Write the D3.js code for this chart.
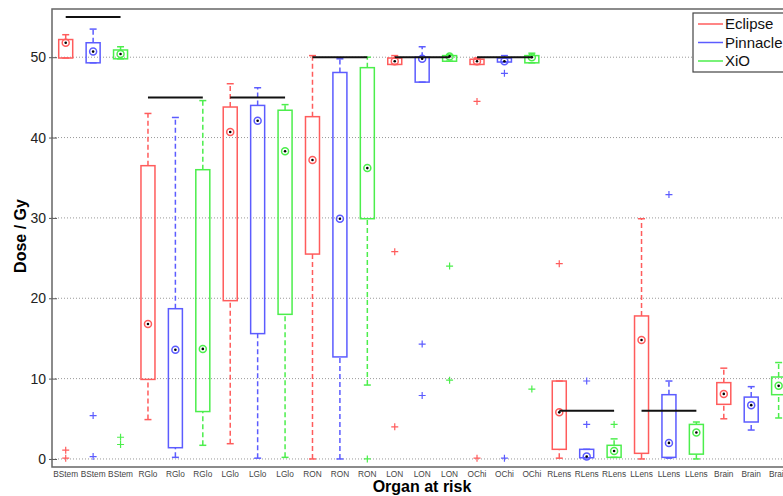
<!DOCTYPE html>
<html>
<head>
<meta charset="utf-8">
<script src="https://cdn.jsdelivr.net/npm/d3@7"></script>
<style>
  body { margin: 0; background: #fff; }
  svg { display: block; font-family: "Liberation Sans", Arial, sans-serif; }
</style>
</head>
<body>
<svg id="chart" width="783" height="496"></svg>
<script>
// organs and planning systems
var organs = ["BStem", "RGlo", "LGlo", "RON", "LON", "OChi", "RLens", "LLens", "Brain"];
var systems = ["Eclipse", "Pinnacle", "XiO"];
var colors = ["#ff5c5c", "#5c5cff", "#4cee4c"];

// [lower whisker, q1, median, q3, upper whisker] per organ
var eclipse = [
  [49.9, 49.9, 51.8, 52.2, 52.8],
  [4.9, 9.9, 16.8, 36.5, 43.0],
  [1.9, 19.7, 40.7, 43.8, 46.7],
  [0, 25.5, 37.2, 42.6, 50.2],
  [49.1, 49.1, 49.5, 49.9, 50.2],
  [49.1, 49.1, 49.5, 49.75, 49.9],
  [0.1, 1.2, 5.8, 9.7, 9.7],
  [0, 0.7, 14.8, 17.8, 29.9],
  [5.0, 6.8, 8.1, 9.5, 11.3]
];
var pinnacle = [
  [49.3, 49.3, 50.7, 51.8, 53.5],
  [0.2, 1.4, 13.6, 18.7, 42.5],
  [0.1, 15.6, 42.1, 44.0, 46.2],
  [0, 12.7, 29.9, 48.1, 49.8],
  [46.9, 46.9, 49.8, 50.0, 51.3],
  [49.4, 49.4, 49.5, 49.9, 50.2],
  [0.15, 0.15, 0.3, 1.2, 1.2],
  [0.1, 0.2, 2.0, 8.0, 9.7],
  [3.6, 4.6, 6.7, 7.7, 9.0]
];
var xio = [
  [49.8, 49.8, 50.4, 50.9, 51.3],
  [1.7, 5.9, 13.7, 36.0, 44.6],
  [0.2, 18.0, 38.3, 43.4, 44.1],
  [9.2, 29.9, 36.2, 48.7, 50.0],
  [49.5, 49.5, 50.1, 50.2, 50.3],
  [49.3, 49.3, 50.0, 50.2, 50.5],
  [0.2, 0.2, 1.0, 1.7, 2.5],
  [0, 0.6, 3.3, 4.3, 4.6],
  [5.1, 8.0, 9.1, 10.2, 12.0]
];

// outliers per organ
var eclipseOut = [[1.1, 0.1], [], [], [], [25.8, 4.0], [44.5, 0.1], [24.3], [], []];
var pinnacleOut = [[5.4, 0.3], [], [], [], [14.3, 7.9], [48.0, 0.1], [9.7, 4.3], [32.9], []];
var xioOut = [[2.7, 1.8], [], [], [0], [24.0, 9.8], [8.7], [4.3], [], []];

// dose constraints (black lines)
var constraints = [55, 45, 45, 50, 50, 50, 6, 6, null];

var yTicks = [0, 10, 20, 30, 40, 50];

(function() {
  var stats = [eclipse, pinnacle, xio];
  var outs = [eclipseOut, pinnacleOut, xioOut];

  var svg = d3.select("#chart");
  var left = 52, topY = 9, bottom = 467, step = 27.42;
  var nBoxes = organs.length * systems.length;

  var x = d3.scaleLinear().domain([0.5, nBoxes + 0.5]).range([left, left + nBoxes * step]);
  var y = d3.scaleLinear().domain([-1, 56]).range([bottom, topY]);
  var right = x(nBoxes + 0.5);

  // grid
  svg.append("g").selectAll("line")
    .data(yTicks)
    .enter().append("line")
    .attr("x1", left).attr("x2", right)
    .attr("y1", function(d) { return y(d); })
    .attr("y2", function(d) { return y(d); })
    .attr("stroke", "#999")
    .attr("stroke-dasharray", "1,2");

  // y axis
  var yAxis = svg.append("g")
    .attr("transform", "translate(" + left + ",0)")
    .call(d3.axisLeft(y).tickValues(yTicks).tickSize(3).tickPadding(3));
  yAxis.select(".domain").remove();
  yAxis.selectAll(".tick line").attr("x2", 5).attr("x1", -3).attr("stroke", "#555");
  yAxis.selectAll(".tick text")
    .attr("font-size", "14px").attr("fill", "#222")
    .attr("font-family", "Liberation Sans, Arial, sans-serif");

  var boxes = [];
  organs.forEach(function(o, i) {
    systems.forEach(function(s, j) {
      boxes.push({organ: o, sys: j, pos: i * 3 + j + 1, st: stats[j][i], out: outs[j][i]});
    });
  });

  // x labels
  svg.append("g").selectAll("text")
    .data(boxes)
    .enter().append("text")
    .attr("x", function(d) { return x(d.pos); })
    .attr("y", 476.5)
    .attr("text-anchor", "middle")
    .attr("font-size", "8.3px")
    .attr("fill", "#444")
    .text(function(d) { return d.organ; });

  var bw = 14, cw = 7;
  var g = svg.append("g").selectAll("g")
    .data(boxes)
    .enter().append("g")
    .attr("stroke", function(d) { return colors[d.sys]; })
    .attr("fill", "none");

  // whiskers
  g.append("line")
    .attr("x1", function(d) { return x(d.pos); })
    .attr("x2", function(d) { return x(d.pos); })
    .attr("y1", function(d) { return y(d.st[3]); })
    .attr("y2", function(d) { return y(d.st[4]); })
    .attr("stroke-width", 1.5)
    .attr("stroke-dasharray", "5,3");
  g.append("line")
    .attr("x1", function(d) { return x(d.pos); })
    .attr("x2", function(d) { return x(d.pos); })
    .attr("y1", function(d) { return y(d.st[0]); })
    .attr("y2", function(d) { return y(d.st[1]); })
    .attr("stroke-width", 1.5)
    .attr("stroke-dasharray", "5,3");
  // caps
  [0, 4].forEach(function(k) {
    g.append("line")
      .attr("x1", function(d) { return x(d.pos) - cw / 2; })
      .attr("x2", function(d) { return x(d.pos) + cw / 2; })
      .attr("y1", function(d) { return y(d.st[k]); })
      .attr("y2", function(d) { return y(d.st[k]); })
      .attr("stroke-width", 1.5);
  });
  // box
  g.append("rect")
    .attr("x", function(d) { return x(d.pos) - bw / 2; })
    .attr("y", function(d) { return y(d.st[3]); })
    .attr("width", bw)
    .attr("height", function(d) { return y(d.st[1]) - y(d.st[3]); })
    .attr("stroke-width", 1.5);
  // median target
  g.append("circle")
    .attr("cx", function(d) { return x(d.pos); })
    .attr("cy", function(d) { return y(d.st[2]); })
    .attr("r", 3.5)
    .attr("stroke-width", 1.5);
  g.append("circle")
    .attr("cx", function(d) { return x(d.pos); })
    .attr("cy", function(d) { return y(d.st[2]); })
    .attr("r", 1.3)
    .attr("stroke", "none")
    .attr("fill", "#000");
  // outliers
  g.each(function(d) {
    d3.select(this).selectAll("path.out")
      .data(d.out)
      .enter().append("path")
      .attr("class", "out")
      .attr("d", function(v) {
        var cx = x(d.pos), cy = y(v);
        return "M" + (cx - 3.5) + "," + cy + "H" + (cx + 3.5) + "M" + cx + "," + (cy - 3.5) + "V" + (cy + 3.5);
      })
      .attr("stroke-width", 1.2);
  });

  // constraint lines
  svg.append("g").selectAll("line")
    .data(constraints.map(function(c, i) { return {c: c, i: i}; }).filter(function(d) { return d.c != null; }))
    .enter().append("line")
    .attr("x1", function(d) { return x(d.i * 3 + 1); })
    .attr("x2", function(d) { return x(d.i * 3 + 3); })
    .attr("y1", function(d) { return y(d.c); })
    .attr("y2", function(d) { return y(d.c); })
    .attr("stroke", "#111")
    .attr("stroke-width", 2);

  // frame
  svg.append("path")
    .attr("d", "M" + right + "," + topY + "H" + left + "V" + bottom + "H" + right)
    .attr("fill", "none")
    .attr("stroke", "#666")
    .attr("stroke-width", 1.5);

  // titles
  svg.append("text")
    .attr("x", 422).attr("y", 492)
    .attr("text-anchor", "middle")
    .attr("font-size", "16px").attr("font-weight", "bold").attr("fill", "#000")
    .text("Organ at risk");
  svg.append("text")
    .attr("transform", "translate(26,236) rotate(-90)")
    .attr("text-anchor", "middle")
    .attr("font-size", "16px").attr("font-weight", "bold").attr("fill", "#000")
    .text("Dose / Gy");

  // legend
  var lg = svg.append("g").attr("transform", "translate(693,13)");
  lg.append("rect")
    .attr("width", 110).attr("height", 59)
    .attr("fill", "#fff").attr("stroke", "#444").attr("stroke-width", 1.2);
  systems.forEach(function(s, i) {
    lg.append("line")
      .attr("x1", 5).attr("x2", 30)
      .attr("y1", 11 + i * 18.5).attr("y2", 11 + i * 18.5)
      .attr("stroke", colors[i]).attr("stroke-width", 1.5);
    lg.append("text")
      .attr("x", 32).attr("y", 16 + i * 18.5)
      .attr("font-size", "15px").attr("fill", "#111")
      .text(s);
  });
})();
</script>
</body>
</html>
